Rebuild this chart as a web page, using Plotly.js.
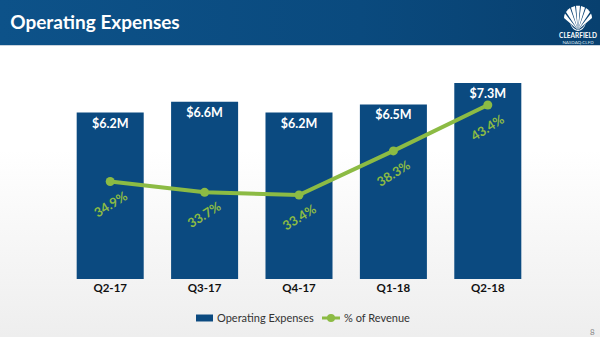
<!DOCTYPE html>
<html><head><meta charset="utf-8">
<script src="https://cdn.plot.ly/plotly-3.0.1.min.js"></script>
<style>
html,body{margin:0;padding:0;width:600px;height:337px;overflow:hidden;}
#bg{position:absolute;left:0;top:0;width:600px;height:337px;background:linear-gradient(#ffffff 45px,#ffffff 150px,#eeeeee 337px);}
#hdr{position:absolute;left:0;top:0;width:600px;height:45px;background:linear-gradient(90deg,#0d5289 0%,#0a4a7e 60%,#08406f 100%);border-bottom:1px solid #c9d3dd;}
#logo{position:absolute;left:556px;top:3px;}
#chart{position:absolute;left:0;top:0;width:600px;height:337px;}
</style></head>
<body>
<div id="bg"></div><div id="hdr"></div>
<svg id="logo" width="44" height="42" viewBox="0 0 44 42">
  <g fill="#ffffff">
    <path d="M22 27 L10 9 Q12 6 14 5 Z"/>
    <path d="M22 27 L15 4.5 Q17 3.5 19 3 Z"/>
    <path d="M22 27 L20 2.8 Q22 2.6 24 2.8 Z"/>
    <path d="M22 27 L25 3 Q27 3.5 29 4.5 Z"/>
    <path d="M22 27 L30 5 Q32 6 34 9 Z"/>
    <path d="M22 27 L9 10.5 Q8 13 8 15 Z"/>
    <path d="M22 27 L35 10.5 Q36 13 36 15 Z"/>
    <path d="M14 20 Q22 34 30 20 Q28 27 22 28 Q16 27 14 20 Z"/>
  </g>
  <text x="22" y="35" text-anchor="middle" font-family="Lato, sans-serif" font-size="6.5" font-weight="bold" fill="#ffffff">CLEARFIELD</text>
  <text x="22" y="41" text-anchor="middle" font-family="Lato, sans-serif" font-size="4.5" fill="#d8e2ec">NASDAQ:CLFD</text>
</svg>
<div id="chart"></div>
<script>
const quarters = ["Q2-17","Q3-17","Q4-17","Q1-18","Q2-18"];
const opex = [6.2, 6.6, 6.2, 6.5, 7.3];
const pctRevenue = [34.9, 33.7, 33.4, 38.3, 43.4];
const seriesNames = ["Operating Expenses", "% of Revenue"];

const blue = "#0b4a80";
const green = "#8cbb44";
const font = "Lato, 'Open Sans', sans-serif";

const bars = {
  type: "bar", x: quarters, y: opex, name: seriesNames[0],
  marker: {color: blue}, width: 0.71,
  text: opex.map(v => "$" + v.toFixed(1) + "M"),
  textposition: "inside", insidetextanchor: "end", constraintext: "none",
  textfont: {color: "#ffffff", size: 12.5, family: font, weight: "bold"},
  hoverinfo: "skip", showlegend: false
};
const line = {
  type: "scatter", mode: "lines+markers", x: quarters, y: pctRevenue, yaxis: "y2",
  name: seriesNames[1], line: {color: green, width: 4}, marker: {color: green, size: 9},
  hoverinfo: "skip", showlegend: false
};

const annotations = pctRevenue.map((v, i) => ({
  x: quarters[i], y: v, yref: "y2", xref: "x", text: v.toFixed(1) + "%",
  showarrow: false, textangle: -32, yshift: -22,
  font: {color: green, size: 13, family: font, weight: "bold"}
}));
// legend (custom, compact like the original)
annotations.push(
  {xref: "paper", yref: "paper", x: 0.322, y: -0.1866, xanchor: "left", yanchor: "middle", text: seriesNames[0],
   showarrow: false, font: {size: 11, color: "#333333", family: font}},
  {xref: "paper", yref: "paper", x: 0.5911, y: -0.1866, xanchor: "left", yanchor: "middle", text: seriesNames[1],
   showarrow: false, font: {size: 11, color: "#333333", family: font}},
  {xref: "paper", yref: "paper", x: 1.131, y: -0.2536, xanchor: "right", yanchor: "middle", text: "8", showarrow: false,
   font: {size: 8, color: "#888888", family: font}}
);
const shapes = [
  {type: "rect", xref: "paper", yref: "paper", x0: 0.2818, x1: 0.3178, y0: -0.2033, y1: -0.1699,
   fillcolor: blue, line: {width: 0}},
  {type: "line", xref: "paper", yref: "paper", x0: 0.5487, x1: 0.5869, y0: -0.1866, y1: -0.1866,
   line: {color: green, width: 3}},
  {type: "circle", xref: "paper", yref: "paper", x0: 0.5678 - 0.0085, x1: 0.5678 + 0.0085,
   y0: -0.1866 - 0.0191, y1: -0.1866 + 0.0191, fillcolor: green, line: {width: 0}}
];

const layout = {
  width: 600, height: 337,
  paper_bgcolor: "rgba(0,0,0,0)", plot_bgcolor: "rgba(0,0,0,0)",
  margin: {l: 63, r: 65, t: 70, b: 58, autoexpand: false},
  title: {text: "<b>Operating Expenses</b>", x: 0.017, xanchor: "left", y: 0.935, yanchor: "middle",
          font: {color: "#ffffff", size: 19, family: font}},
  showlegend: false,
  xaxis: {tickfont: {size: 11.5, color: "#111111", family: font, weight: "bold"},
          showline: false, ticks: "", showgrid: false, fixedrange: true},
  yaxis: {range: [0, 7.784], visible: false, showgrid: false, zeroline: false, fixedrange: true},
  yaxis2: {range: [24.07, 47.29], overlaying: "y", side: "right", visible: false, showgrid: false, zeroline: false},
  annotations: annotations,
  shapes: shapes,
  bargap: 0.29
};

Plotly.newPlot("chart", [bars, line], layout, {displayModeBar: false, staticPlot: true});
</script>
</body></html>
